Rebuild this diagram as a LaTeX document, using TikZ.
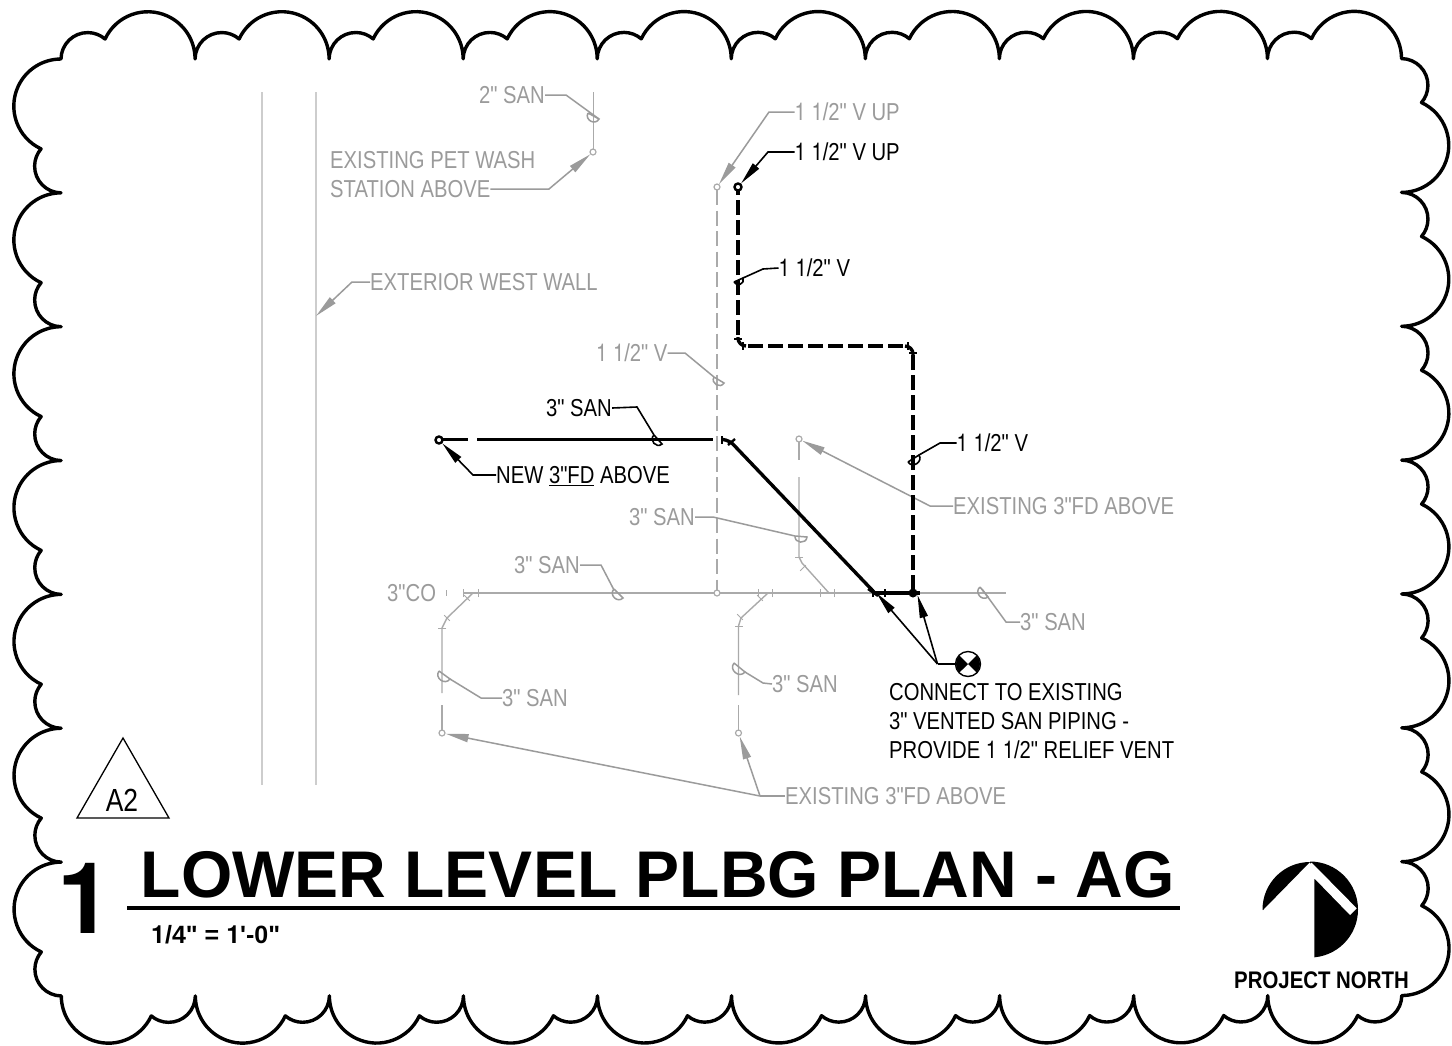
\documentclass[tikz,border=0pt]{standalone}
\usepackage{fontspec}
\usetikzlibrary{arrows.meta,calc}
\newfontfamily\cad[FakeStretch=0.826]{Liberation Sans}
\newfontfamily\cadn[FakeStretch=0.85]{Liberation Sans}
\newfontfamily\ari{Liberation Sans}
\newfontfamily\hvn[FakeStretch=0.826]{TeX Gyre Heros}
\newfontfamily\hv{TeX Gyre Heros}
\newcommand{\one}{{\hvn 1}}
\definecolor{gtxt}{RGB}{155,155,155}
\definecolor{gpipe}{RGB}{170,170,170}
\definecolor{gwall}{RGB}{205,205,205}
\tikzset{
  cloud/.style={line width=3.4pt,line join=round,line cap=round},
  gp/.style={draw=gpipe,line width=1.4pt},
  gdash/.style={gp,line width=1.2pt,dash pattern=on 15pt off 5.5pt},
  gl/.style={draw=gtxt,line width=1.5pt},
  bl/.style={draw=black,line width=1.6pt},
  wall/.style={draw=gwall,line width=1.8pt},
  bp/.style={draw=black,line width=3.4pt},
  bd/.style={bp,dash pattern=on 15pt off 5pt},
  bt/.style={draw=black,line width=2pt},
  gtip/.style={-{Triangle[length=23pt,width=8pt,fill=gtxt]}},
  btip/.style={-{Triangle[length=23pt,width=8pt,fill=black]}},
  txt/.style={inner sep=0pt,anchor=west,font=\cad\fontsize{24.5}{29}\selectfont,text height=17.6pt,text depth=0pt},
  gt/.style={txt,text=gtxt},
  bk/.style={txt,text=black},
  gc/.style={circle,draw=gpipe,line width=1.2pt,fill=white,minimum size=6pt,inner sep=0pt},
  bc/.style={circle,draw=black,line width=2.4pt,fill=white,minimum size=7pt,inner sep=0pt},
}
\newcommand{\slopemark}[3]{\draw[#1] (#2) -- (#3) .. controls ($(#3)!.62!-90:(#2)$) and ($(#2)!.62!90:(#3)$) .. (#2);}
\newcommand{\pipetick}[4]{\draw[#1] (#2,#3) ++(#4:4) -- ++(#4+180:8);}
\begin{document}
\begin{tikzpicture}[x=1pt,y=1pt,yscale=-1]
\useasboundingbox (0,0) rectangle (1452,1045);
\fill[white] (0,0) rectangle (1452,1045);
% revision cloud
\draw[cloud] (61,59)
  \foreach \i in {1,...,10}{ arc[start angle=-179.4,end angle=-49.4,radius=26.7] arc[start angle=-155,end angle=0,radius=47.2] }
  \foreach \i in {1,...,7}{ arc[start angle=-89.4,end angle=40.6,x radius=26.7,y radius=26.66] arc[start angle=-65,end angle=90,x radius=47.2,y radius=47.13] }
  \foreach \i in {1,...,10}{ arc[start angle=0.6,end angle=130.6,radius=26.7] arc[start angle=25,end angle=180,radius=47.2] }
  \foreach \i in {1,...,7}{ arc[start angle=90.6,end angle=220.6,x radius=26.7,y radius=26.66] arc[start angle=115,end angle=270,x radius=47.2,y radius=47.13] };
% walls
\draw[wall] (262,92) -- (262,785);
\draw[wall] (316,92) -- (316,785);
% gray pipes
\draw[gp] (593.5,92) -- (593.5,149);
\node[gc] (petc) at (593,152) {};
\draw[gdash] (717,190) -- (717,590);
\node[gc] (vupg) at (717,187) {};
\draw[gp] (463,593) -- (1006,593);
\draw[gp] (473,593) -- (447,618) -- (442,628) -- (442,693);
\draw[gp] (442,705) -- (442,730);
\node[gc] (fda) at (442,733) {};
\draw[gp] (768,593) -- (741,618) -- (738.5,626) -- (738.5,695);
\draw[gp] (738.5,705) -- (738.5,730);
\node[gc] (fdb) at (738.5,733) {};
\draw[gp] (799,442) -- (799,460);
\draw[gp] (799,477) -- (799,557) -- (802,563) -- (829,593);
\node[gc] (fdc) at (799,439) {};
\node[gc] (teeg) at (717,593) {};
\draw[gp,line width=1pt] (446,590) -- (446,596);
\pipetick{gp,line width=1pt}{463}{593}{90}
\pipetick{gp,line width=1pt}{478}{593}{90}
\pipetick{gp,line width=1pt}{467}{598}{45}
\pipetick{gp,line width=1pt}{447}{618}{45}
\pipetick{gp,line width=1pt}{442}{628}{0}
\pipetick{gp,line width=1pt}{758}{593}{90}
\pipetick{gp,line width=1pt}{772}{593}{90}
\pipetick{gp,line width=1pt}{760}{598}{45}
\pipetick{gp,line width=1pt}{740}{617}{45}
\pipetick{gp,line width=1pt}{738.5}{626}{0}
\pipetick{gp,line width=1pt}{799}{557}{0}
\pipetick{gp,line width=1pt}{803}{568}{-45}
\pipetick{gp,line width=1pt}{820}{593}{90}
\pipetick{gp,line width=1pt}{834}{593}{90}
% gray text
\node[gt] (tsan2) at (479,95) {2" SAN};
\node[gt] (peta) at (330,160) {EXISTING PET WASH};
\node[gt] (petb) at (330,189) {STATION ABOVE};
\node[gt] (wallt) at (370,282) {EXTERIOR WEST WALL};
\node[gt] (vupt) at (794.5,112) {\one{} \one/2" V UP};
\node[gt] (vg) at (596,353) {\one{} \one/2" V};
\node[gt] (fdct) at (953,506) {EXISTING 3"FD ABOVE};
\node[gt] (sana) at (629,517) {3" SAN};
\node[gt] (sanb) at (514,565) {3" SAN};
\node[gt] (co) at (387,593) {3"CO};
\node[gt] (sanc) at (1020,622) {3" SAN};
\node[gt] (sand) at (772,684) {3" SAN};
\node[gt] (sane) at (502,698) {3" SAN};
\node[gt] (fdt) at (785,796) {EXISTING 3"FD ABOVE};
% gray leaders
\coordinate (s10) at (599,119);
\draw[gl] (tsan2.east) -- ++(3,0) -- (566,95) -- (s10);
\slopemark{gl}{588,113}{s10}
\draw[gl,gtip] (petb.east) -- ++(2,0) -- (549,189) -- (petc);
\draw[gl,gtip] (wallt.west) -- ++(-3,0) -- (352,282) -- (316,316);
\draw[gl,gtip] (vupt.west) -- ++(-3,0) -- (769,112) -- (vupg);
\coordinate (s9) at (724,383);
\draw[gl] (vg.east) -- (685,353) -- (714,377);
\slopemark{gl}{714,377}{s9}
\draw[gl,gtip] (fdct.west) -- ++(-3,0) -- (930,506) -- (fdc);
\draw[gl] (sana.east) -- (713,517) -- (795,536);
\slopemark{gl}{795,536}{807,537}
\draw[gl] (sanb.east) -- (601,565) -- (614,590);
\slopemark{gl}{614,589}{623,598}
\draw[gl] (sanc.west) -- (1006,622) -- (982,589);
\slopemark{gl}{980,587}{988,597}
\draw[gl] (sand.west) -- (763,683) -- (745,672);
\slopemark{gl}{734,663}{745,672}
\draw[gl] (sane.west) -- (481,698) -- (450,679);
\slopemark{gl}{439,671}{450,679}
\coordinate (fdj) at (760,796);
\draw[gl] (fdt.west) -- (fdj);
\draw[gl,gtip] (fdj) -- (fda);
\draw[gl,gtip] (fdj) -- (fdb);
% black pipes
\draw[bp] (441,439.5) -- (468,439.5);
\draw[bp] (477,439.5) -- (713,439.5);
\draw[bp,rounded corners=6pt] (722,439.5) -- (729,440) -- (874,592);
\draw[bt,line width=2.4pt] (722,436) -- (722,444);
\draw[bt,line width=2.4pt] (728,445) -- (735,439);
\draw[bp] (874,593) -- (920,593);
\draw[bt,line width=2.4pt] (868,589) -- (878,596);
\draw[bt,line width=2.4pt] (873,589) -- (873,597);
\draw[bt,line width=2.4pt] (885,589) -- (885,597);
\draw[bd] (913,590) -- (913,355);
\draw[bp,rounded corners=8pt] (913,355) -- (913,346) -- (905,346);
\draw[bd] (903,346) -- (745,346);
\draw[bp,rounded corners=8pt] (746,346) -- (738,346) -- (738,337);
\draw[bd] (738,335) -- (738,190);
\draw[bt,line width=2.4pt] (734,339) -- (742,339);
\draw[bt,line width=2.4pt] (743,342) -- (743,350);
\draw[bt,line width=2.4pt] (908,342) -- (908,350);
\draw[bt,line width=2.4pt] (909,353) -- (917,353);
\node[bc] (fdn) at (439,440) {};
\node[bc] (vupb) at (738,187) {};
\fill (913,593) circle (4.5);
% black text
\node[bk] (san3) at (546,408) {3" SAN};
\node[bk] (newfd) at (496,475) {NEW \underline{3"FD} ABOVE};
\node[bk] (vupk) at (794.5,152) {\one{} \one/2" V UP};
\node[bk] (vk) at (778.5,268) {\one{} \one/2" V};
\node[bk] (vl) at (956.5,443) {\one{} \one/2" V};
\node[bk] (cona) at (889,692) {CONNECT TO EXISTING};
\node[bk] (conb) at (889,721) {3" VENTED SAN PIPING -};
\node[bk] (conc) at (889,750) {PROVIDE \one{} \one/2" RELIEF VENT};
% black leaders
\draw[bl] (san3.east) -- (637,407) -- (654,435);
\slopemark{bl}{654,435}{662,444}
\draw[bl,btip] (newfd.west) -- ++(-3,0) -- (473,475) -- (fdn);
\draw[bl,btip] (vupk.west) -- ++(-3,0) -- (768,152) -- (vupb);
\draw[bl] (vk.west) -- (763,269) -- (743,278);
\slopemark{bl}{734,282}{743,278}
\draw[bl] (vl.west) -- (940,443) -- (919,455);
\slopemark{bl}{908,462}{919,455}
% connection symbol
\node[circle,draw=black,fill=white,line width=1.4pt,minimum size=25pt,inner sep=0pt] (sym) at (968,664) {};
\fill (968,664) -- (959.5,655.5) arc[start angle=-135,end angle=-225,radius=12] -- cycle;
\fill (968,664) -- (976.5,655.5) arc[start angle=-45,end angle=45,radius=12] -- cycle;
\coordinate (symj) at (937.5,664);
\draw[bt] (sym.west) -- (symj);
\draw[bl,btip] (symj) -- (876.5,593);
\draw[bl,btip] (symj) -- (917.5,595);
% A2 triangle
\node[inner sep=0pt,font=\cad\fontsize{32}{36}\selectfont] (a2) at (122,800) {A2};
\draw[line width=1.3pt,line join=miter] (123,738) -- (169,818) -- (77,818) -- cycle;
% title
\node[inner sep=0pt,anchor=base west,font=\ari\bfseries\fontsize{66}{70}\selectfont] (title) at (140.5,897) {LOWER LEVEL PLBG PLAN - AG};
\node[inner sep=0pt,anchor=base west,font=\hv\bfseries\fontsize{99}{100}\selectfont] (num) at (57.5,933) {1};
\draw[line width=3.4pt] (127,908) -- (1180,908);
\node[inner sep=0pt,anchor=base west,font=\ari\bfseries\fontsize{25}{28}\selectfont] (scale) at (151,943) {{\hv\bfseries 1}/4" = {\hv\bfseries 1}'-0"};
% north arrow
\fill (1310,861.5) arc[start angle=-90,end angle=90,radius=48] -- cycle;
\fill[white] (1311.7,862.7) -- (1356.7,908.3) -- (1350,915) -- (1314.3,878.3) -- (1314.3,960) -- (1300,960) -- (1300,870) -- cycle;
\fill (1263,910) -- (1310,862) arc[start angle=-90,end angle=-180,radius=47.5] -- cycle;
\node[inner sep=0pt,anchor=base west,font=\cadn\bfseries\fontsize{24}{28}\selectfont] (north) at (1234,988) {PROJECT NORTH};
\end{tikzpicture}
\end{document}
